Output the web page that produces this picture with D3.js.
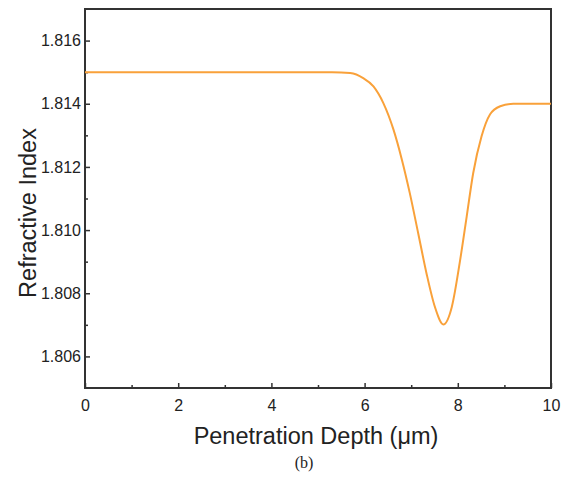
<!DOCTYPE html>
<html>
<head>
<meta charset="utf-8">
<script src="https://cdn.jsdelivr.net/npm/d3@7"></script>
<style>
  body { margin: 0; background: #fff; }
  svg text { font-family: "Liberation Sans", Arial, sans-serif; fill: #222; }
</style>
</head>
<body>
<div id="chart"></div>
<script>
// depth (um) and refractive index
const depth = [0, 1, 2, 3, 4, 5, 5.3, 5.69, 5.97, 6.19, 6.40, 6.62, 6.80, 6.97, 7.15, 7.33, 7.51, 7.69,
               7.87, 8.05, 8.19, 8.33, 8.51, 8.69, 8.91, 9.19, 9.5, 10];
const index = [1.815, 1.815, 1.815, 1.815, 1.815, 1.815, 1.815, 1.81497, 1.81481, 1.81455, 1.81403, 1.81318,
               1.81223, 1.81117, 1.80990, 1.80862, 1.80756, 1.80701, 1.80756, 1.80905, 1.81042, 1.81180,
               1.81297, 1.81366, 1.81392, 1.81400, 1.814, 1.814];
const xTicks = [0, 2, 4, 6, 8, 10];
const xMinor = [1, 3, 5, 7, 9];
const yTicks = [1.806, 1.808, 1.810, 1.812, 1.814, 1.816];
const yMinor = [1.807, 1.809, 1.811, 1.813, 1.815];

const width = 568, height = 477;
const margin = {top: 9, right: 17, bottom: 89, left: 85};

const svg = d3.select('#chart').append('svg')
    .attr('width', width)
    .attr('height', height);

const x = d3.scaleLinear().domain([0, 10]).range([margin.left, width - margin.right]);
const y = d3.scaleLinear().domain([1.805, 1.817]).range([height - margin.bottom, margin.top]);

const axisColor = '#333';

// minor ticks
svg.append('g')
    .attr('transform', `translate(0,${height - margin.bottom})`)
    .call(d3.axisBottom(x).tickValues(xMinor).tickSize(-3).tickFormat(''))
    .call(g => g.select('.domain').remove())
    .call(g => g.selectAll('line').attr('stroke', axisColor).attr('stroke-width', 1.5));
svg.append('g')
    .attr('transform', `translate(${margin.left},0)`)
    .call(d3.axisLeft(y).tickValues(yMinor).tickSize(-3).tickFormat(''))
    .call(g => g.select('.domain').remove())
    .call(g => g.selectAll('line').attr('stroke', axisColor).attr('stroke-width', 1.5));

// major ticks
svg.append('g')
    .attr('transform', `translate(0,${height - margin.bottom})`)
    .call(d3.axisBottom(x).tickValues(xTicks).tickSize(-5).tickPadding(12).tickFormat(d3.format('d')))
    .call(g => g.select('.domain').remove())
    .call(g => g.selectAll('line').attr('stroke', axisColor).attr('stroke-width', 1.5))
    .call(g => g.selectAll('text').attr('font-size', 16).attr('fill', '#222'));
svg.append('g')
    .attr('transform', `translate(${margin.left},0)`)
    .call(d3.axisLeft(y).tickValues(yTicks).tickSize(-5).tickPadding(4).tickFormat(d3.format('.3f')))
    .call(g => g.select('.domain').remove())
    .call(g => g.selectAll('line').attr('stroke', axisColor).attr('stroke-width', 1.5))
    .call(g => g.selectAll('text').attr('font-size', 16).attr('fill', '#222'));

// frame
svg.append('rect')
    .attr('x', x(0))
    .attr('y', y(1.817))
    .attr('width', x(10) - x(0))
    .attr('height', y(1.805) - y(1.817))
    .attr('fill', 'none')
    .attr('stroke', axisColor)
    .attr('stroke-width', 2);

// curve
const line = d3.line()
    .x((d, i) => x(depth[i]))
    .y(d => y(d))
    .curve(d3.curveMonotoneX);

svg.append('path')
    .datum(index)
    .attr('d', line)
    .attr('fill', 'none')
    .attr('stroke', '#f9a13a')
    .attr('stroke-width', 2);

// axis titles
svg.append('text')
    .attr('x', 316)
    .attr('y', 444)
    .attr('text-anchor', 'middle')
    .attr('font-size', 23.5)
    .text('Penetration Depth (\u03bcm)');

svg.append('text')
    .attr('transform', `translate(36,213) rotate(-90)`)
    .attr('text-anchor', 'middle')
    .attr('font-size', 23.5)
    .text('Refractive Index');

svg.append('text')
    .attr('x', 304)
    .attr('y', 468)
    .attr('text-anchor', 'middle')
    .attr('font-size', 16)
    .style('font-family', '"Liberation Serif", "Times New Roman", serif')
    .text('(b)');
</script>
</body>
</html>
